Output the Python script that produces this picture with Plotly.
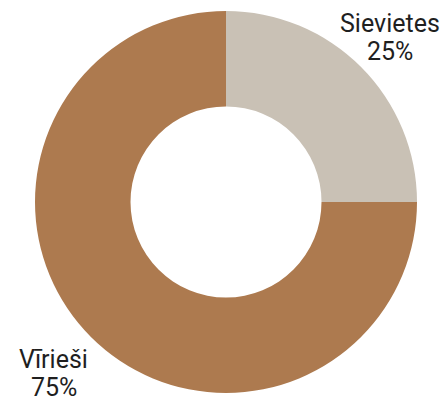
import math
import plotly.graph_objects as go

labels = ["Sievietes", "Vīrieši"]
values = [25, 75]
colors = ["#C9C1B5", "#AD7A4F"]

W, H = 447, 407
cx, cy, r = 226, 202, 191

fig = go.Figure(go.Pie(
    labels=labels,
    values=values,
    hole=0.5,
    sort=False,
    direction="clockwise",
    rotation=0,
    marker=dict(colors=colors, line=dict(width=0)),
    textinfo="none",
    domain=dict(x=[(cx - r) / W, (cx + r) / W],
                y=[(H - cy - r) / H, (H - cy + r) / H]),
    showlegend=False,
    hoverinfo="label+percent",
))

# labels outside the ring, along the middle angle of each slice
total = sum(values)
start = 0
for lab, v in zip(labels, values):
    mid = (start + v / 2) / total * 2 * math.pi
    start += v
    bx = cx + 1.245 * r * math.sin(mid) - 4
    by = cy - 1.245 * r * math.cos(mid) + 3.5
    pct = f"{round(v / total * 100)}%"
    for txt, dy in [(lab, -14.3), (pct, 14.3)]:
        fig.add_annotation(
            x=bx / W, y=1 - (by + dy) / H,
            xref="paper", yref="paper",
            text=txt, showarrow=False,
            xanchor="center", yanchor="middle",
            font=dict(family="Roboto", size=25, color="#1f1f1f"),
        )

fig.update_layout(
    width=W, height=H,
    margin=dict(l=0, r=0, t=0, b=0),
    paper_bgcolor="white",
    plot_bgcolor="white",
    font=dict(family="Roboto"),
)

fig.write_html("out.html",
               config={"displayModeBar": False},
               post_script="document.body.style.margin='0';"
                           "document.body.style.overflow='hidden';")
